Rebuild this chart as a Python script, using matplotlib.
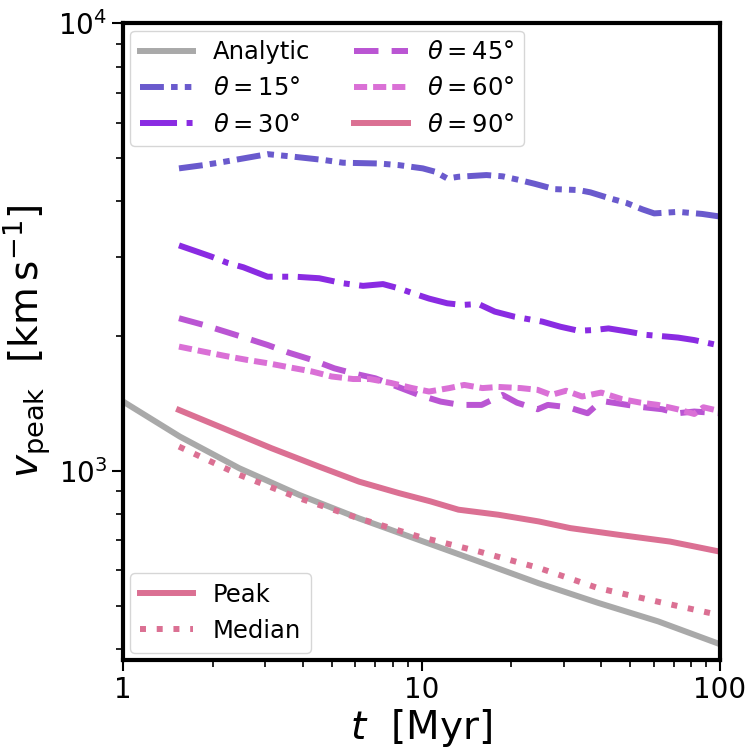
import matplotlib.pyplot as plt
import numpy as np
from matplotlib.ticker import NullFormatter, FuncFormatter
from matplotlib.lines import Line2D

# analytic curve
t_an = [1.0, 1.55, 2.45, 3.89, 6.18, 9.8, 15.5, 24.7, 39.1, 62.1, 100.0]
v_an = [1429, 1193, 1014, 884, 783, 701, 628, 561, 507, 461, 410]

# theta = 15
t_15 = [1.54, 1.86, 2.17, 3.05, 3.66, 4.69, 5.46, 7.21, 8.4, 10.1, 11.1, 12.2, 13.3,
        16.5, 18.7, 21.1, 23.9, 27.9, 33.6, 36.8, 42.9, 48.5, 54.9, 60.2, 72.4, 87.1, 100]
v_15 = [4740, 4820, 4900, 5100, 5040, 4950, 4880, 4860, 4820, 4740, 4660, 4500, 4540,
        4580, 4550, 4470, 4380, 4260, 4240, 4190, 4060, 3970, 3840, 3760, 3790, 3750, 3700]

# theta = 30
t_30 = [1.54, 1.98, 2.24, 2.53, 3.05, 3.78, 4.54, 5.46, 6.37, 7.43, 8.4, 9.5, 10.6,
        12.2, 13.7, 15.5, 17.6, 20.5, 25.4, 29.2, 33.6, 37.9, 42.3, 49.3, 56.6, 66.0,
        72.4, 81.9, 100]
v_30 = [3190, 3010, 2915, 2850, 2715, 2715, 2694, 2625, 2590, 2614, 2557, 2485, 2426,
        2368, 2348, 2360, 2269, 2210, 2155, 2099, 2056, 2064, 2081, 2047, 2013, 1996,
        1985, 1960, 1905]

# theta = 45
t_45 = [1.54, 1.86, 2.2, 2.6, 3.05, 3.6, 4.3, 5.1, 5.9, 7.0, 8.3, 9.8, 11.6, 13.5,
        15.9, 17.2, 18.7, 20.9, 24.5, 26.5, 31.0, 36.0, 38.5, 41.5, 47.0, 54.0, 64.0,
        72.0, 82.0, 100]
v_45 = [2193, 2119, 2047, 1977, 1911, 1836, 1770, 1695, 1652, 1610, 1542, 1478, 1428,
        1404, 1404, 1440, 1478, 1420, 1373, 1404, 1387, 1345, 1400, 1428, 1410, 1390,
        1373, 1345, 1357, 1345]

# theta = 60
t_60 = [1.54, 1.86, 2.2, 2.6, 3.05, 3.6, 4.3, 5.0, 5.9, 6.7, 7.9, 9.3, 10.6, 12.4,
        13.9, 16.0, 18.1, 21.5, 24.5, 27.2, 30.5, 34.5, 40.0, 47.0, 54.0, 62.0, 72.0,
        82.0, 88.0, 100]
v_60 = [1895, 1847, 1806, 1770, 1740, 1704, 1667, 1625, 1604, 1604, 1572, 1531, 1504,
        1531, 1556, 1531, 1540, 1531, 1517, 1478, 1510, 1466, 1496, 1446, 1421, 1404,
        1373, 1340, 1387, 1360]

# theta = 90 (peak and median)
t_pk = [1.54, 2.1, 3.14, 4.54, 6.18, 8.4, 10.7, 13.3, 18.1, 24.7, 31.5, 45.6, 68.1, 81.9, 100]
v_pk = [1368, 1256, 1124, 1022, 946, 892, 855, 819, 798, 771, 745, 720, 695, 678, 660]

t_md = [1.54, 2.45, 3.89, 6.18, 9.8, 15.5, 24.7, 39.1, 62.1, 100]
v_md = [1133, 980, 869, 783, 713, 661, 607, 547, 510, 476]

lw = 4.3

fig = plt.figure(figsize=(7.5, 7.5), dpi=100)
ax = fig.add_axes([0.164, 0.12, 0.796, 0.849])

ax.plot(t_an, v_an, color='darkgray', lw=lw, label='Analytic')
ax.plot(t_15, v_15, color='slateblue', lw=lw, ls=(0, (4.0, 1.2, 1.1, 1.2, 1.1, 1.2)),
        label=r'$\theta = 15\degree$')
ax.plot(t_30, v_30, color='blueviolet', lw=lw, ls=(0, (6.2, 1.6, 1, 1.6)),
        label=r'$\theta = 30\degree$')
ax.plot(t_45, v_45, color='mediumorchid', lw=lw, ls=(0, (4.1, 2.2)),
        label=r'$\theta = 45\degree$')
ax.plot(t_60, v_60, color='orchid', lw=lw, ls=(0, (2.2, 1.0)),
        label=r'$\theta = 60\degree$')
ax.plot(t_pk, v_pk, color='palevioletred', lw=lw, label=r'$\theta = 90\degree$')
ax.plot(t_md, v_md, color='palevioletred', lw=lw, ls=(0, (1, 1.8)))

ax.set_xscale('log')
ax.set_yscale('log')
ax.set_xlim(1, 100)
ax.set_ylim(378, 1e4)

ax.xaxis.set_major_formatter(FuncFormatter(lambda x, p: '%d' % round(x)))
ax.xaxis.set_minor_formatter(NullFormatter())
ax.yaxis.set_minor_formatter(NullFormatter())

ax.tick_params(which='major', labelsize=20, length=8, width=1.5)
ax.tick_params(which='minor', length=5, width=1.2)
for s in ax.spines.values():
    s.set_linewidth(3)

ax.set_xlabel(r'$t\ \ [\rm Myr]$', fontsize=28, labelpad=2)
ax.set_ylabel(r'$v_{\rm peak}\ \ [\rm km\,s^{-1}]$', fontsize=28, labelpad=4)

leg1 = ax.legend(loc='upper left', ncol=2, fontsize=17.5, handlelength=2.2,
                 columnspacing=1.8, borderaxespad=0.3)
ax.add_artist(leg1)

hp = Line2D([], [], color='palevioletred', lw=lw)
hm = Line2D([], [], color='palevioletred', lw=lw, ls=(0, (1, 1.8)))
ax.legend([hp, hm], ['Peak', 'Median'], loc='lower left', fontsize=17.5,
          handlelength=2.2, borderaxespad=0.3)

fig.savefig('out.png', dpi=100)
